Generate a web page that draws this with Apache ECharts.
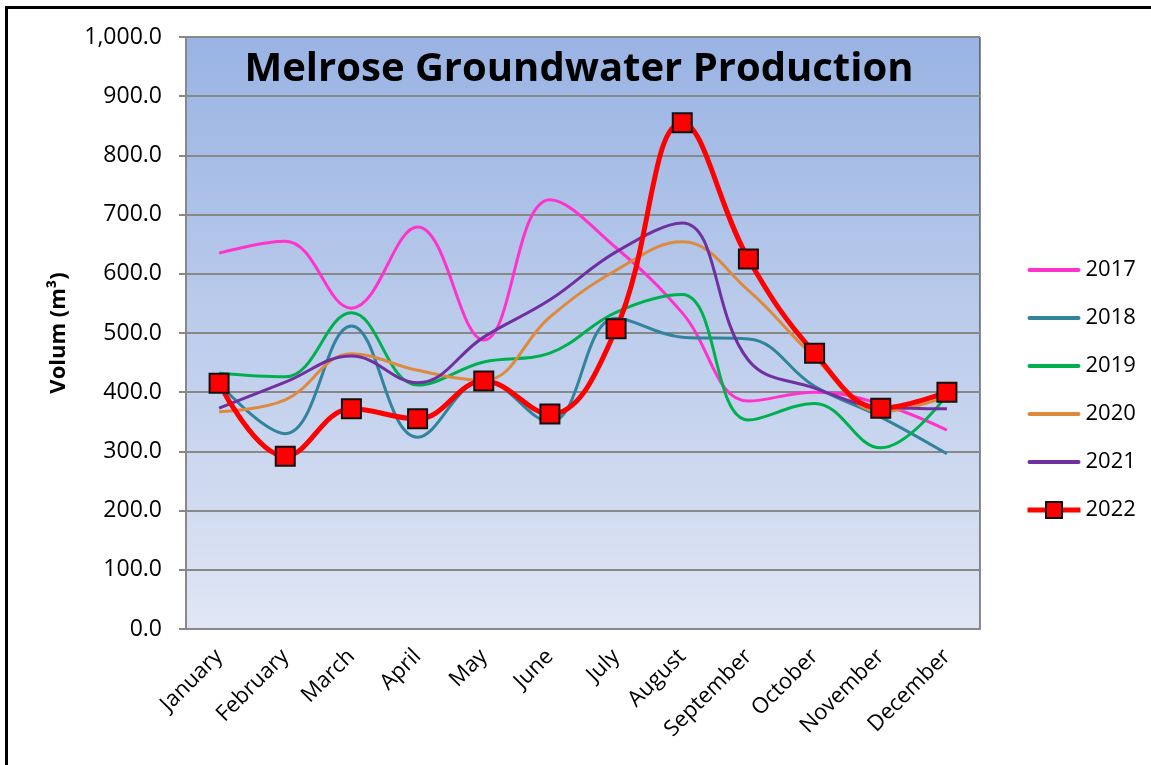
<!DOCTYPE html>
<html>
<head>
<meta charset="utf-8">
<script src="https://cdn.jsdelivr.net/npm/echarts@6/dist/echarts.min.js"></script>
<style>
  html, body { margin: 0; padding: 0; background: #fff; }
  #main { width: 1151px; height: 765px; }
  #frame { position: absolute; left: 5px; top: 6px; width: 1200px; height: 800px;
           border-left: 3px solid #000; border-top: 3px solid #000; pointer-events: none; }
</style>
</head>
<body>
<div id="main"></div>
<div id="frame"></div>
<script>
var months = ["January", "February", "March", "April", "May", "June",
  "July", "August", "September", "October", "November", "December"];

var y2017 = [635, 655, 542, 679, 488, 725, 644, 534, 385, 400, 380, 336];
var y2018 = [415, 330, 512, 324, 420, 350, 525, 493, 490, 410, 358, 296];
var y2019 = [432, 426, 534, 412, 451, 466, 535, 565, 353, 381, 306, 395];
var y2020 = [367, 387, 465, 437, 420, 527, 606, 654, 572, 459, 367, 392];
var y2021 = [373, 417, 461, 416, 493, 556, 637, 686, 454, 407, 375, 372];
var y2022 = [415, 292, 372, 355, 419, 363, 507, 855, 625, 466, 373, 400];

var myChart = echarts.init(document.getElementById("main"));

var font = "Open Sans";
// flat bar used as legend icon for the plain lines
var lineIcon = "path://M2,0 H51 A2,2 0 0 1 51,4 H2 A2,2 0 0 1 2,0 Z";

function lineSeries(name, data, color) {
  return {
    name: name,
    type: "line",
    data: data,
    smooth: 0.4,
    symbol: "none",
    lineStyle: { color: color, width: 3 },
    itemStyle: { color: color }
  };
}

var option = {
  backgroundColor: "#fff",
  animation: false,
  title: {
    text: "Melrose Groundwater Production",
    left: 574,
    top: 45,
    textAlign: "center",
    textStyle: { fontFamily: font, fontWeight: "bold", fontSize: 40, color: "#000" }
  },
  legend: {
    orient: "vertical",
    left: 1020,
    top: 254,
    itemWidth: 53,
    itemHeight: 20,
    itemGap: 26,
    textStyle: { fontFamily: font, fontSize: 22, color: "#000" },
    data: [
      { name: "2017", icon: lineIcon },
      { name: "2018", icon: lineIcon },
      { name: "2019", icon: lineIcon },
      { name: "2020", icon: lineIcon },
      { name: "2021", icon: lineIcon },
      { name: "2022", lineStyle: { width: 5 } }
    ]
  },
  grid: {
    left: 186,
    right: 171,
    top: 37,
    bottom: 136,
    show: true,
    borderColor: "#222",
    borderWidth: 1,
    backgroundColor: new echarts.graphic.LinearGradient(0, 0, 0, 1, [
      { offset: 0, color: "#99b3e3" },
      { offset: 1, color: "#e0e6f4" }
    ])
  },
  xAxis: {
    type: "category",
    data: months,
    boundaryGap: true,
    axisLine: { lineStyle: { color: "#888", width: 2 } },
    axisTick: { length: 7, lineStyle: { color: "#888", width: 2 } },
    axisLabel: { rotate: 45, fontFamily: font, fontSize: 22, color: "#000", margin: 24, interval: 0 }
  },
  yAxis: {
    type: "value",
    min: 0,
    max: 1000,
    interval: 100,
    name: "Volum (m³)",
    nameLocation: "middle",
    nameGap: 116,
    nameTextStyle: { fontFamily: font, fontWeight: "bold", fontSize: 22, color: "#000" },
    axisLine: { show: true, lineStyle: { color: "#888", width: 2 } },
    axisTick: { show: true, length: 7, lineStyle: { color: "#888", width: 2 } },
    splitLine: { lineStyle: { color: "#888", width: 2 } },
    axisLabel: {
      fontFamily: font, fontSize: 23, color: "#000", margin: 24,
      formatter: function (v) {
        return v.toLocaleString("en-US", { minimumFractionDigits: 1, maximumFractionDigits: 1 });
      }
    }
  },
  series: [
    lineSeries("2017", y2017, "#ff33cc"),
    lineSeries("2018", y2018, "#31849b"),
    lineSeries("2019", y2019, "#00b050"),
    lineSeries("2020", y2020, "#dd8a3e"),
    lineSeries("2021", y2021, "#7030a0"),
    {
      name: "2022",
      type: "line",
      data: y2022,
      smooth: 0.4,
      symbol: "rect",
      symbolSize: 19,
      lineStyle: { color: "#ff0000", width: 5 },
      itemStyle: { color: "#ff0000", borderColor: "#111", borderWidth: 2 },
      z: 10
    }
  ]
};

myChart.setOption(option);
</script>
</body>
</html>
